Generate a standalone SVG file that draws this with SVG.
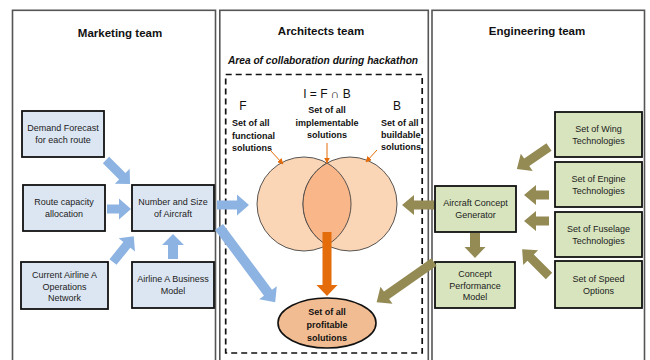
<svg xmlns="http://www.w3.org/2000/svg" width="650" height="360" viewBox="0 0 650 360">
<defs>
<style>
.panel{fill:#fff;stroke:#555;stroke-width:1.6}
.title{font-family:"Liberation Sans",Arial,sans-serif;font-weight:bold;font-size:11.5px;fill:#111;text-anchor:middle}
.bb{fill:#DCE6F2;stroke:#111;stroke-width:1.8}
.gb{fill:#D7E4BD;stroke:#111;stroke-width:1.8}
.t{font-family:"Liberation Sans",Arial,sans-serif;font-size:9px;fill:#222;text-anchor:middle}
.tb{font-family:"Liberation Sans",Arial,sans-serif;font-size:9px;font-weight:bold;fill:#111}
.ab{fill:#8DB3E2}
.ao{fill:#948A54}
.ar{fill:#E46C0A}
.thin{stroke:#E46C0A;stroke-width:1;fill:none;marker-end:url(#sm)}
</style>
<marker id="sm" viewBox="0 0 10 10" refX="9" refY="5" markerWidth="6" markerHeight="6" orient="auto" markerUnits="userSpaceOnUse">
<path d="M0,0 L10,5 L0,10 z" fill="#E46C0A"/>
</marker>
</defs>
<rect width="650" height="360" fill="#fff"/>

<g id="panels">
<rect class="panel" x="12.5" y="10.3" width="203" height="360"/>
<rect class="panel" x="219.8" y="10.3" width="208.5" height="360"/>
<rect class="panel" x="432" y="10.3" width="212.5" height="360"/>
<text class="title" x="120" y="37">Marketing team</text>
<text class="title" x="321" y="35">Architects team</text>
<text class="title" x="537" y="35">Engineering team</text>
</g>

<g id="collab">
<text x="323" y="64" font-family="'Liberation Sans',Arial,sans-serif" font-size="10.2px" font-weight="bold" font-style="italic" text-anchor="middle" fill="#111">Area of collaboration during hackathon</text>
<rect x="225.7" y="74.5" width="196.5" height="278.5" fill="none" stroke="#111" stroke-width="1.7" stroke-dasharray="6,4"/>
</g>

<g id="venn">
<circle cx="304" cy="204" r="47" fill="#FBD6B6" stroke="#444" stroke-width="0.9"/>
<circle cx="350" cy="204" r="47" fill="#FBD6B6" stroke="#444" stroke-width="0.9"/>
<path d="M327,163 A47,47 0 0,1 327,245 A47,47 0 0,1 327,163 Z" fill="#F9B688" stroke="#444" stroke-width="0.9"/>
<text x="327" y="98" font-family="'Liberation Sans',Arial,sans-serif" font-size="12px" text-anchor="middle" fill="#111">I = F ∩ B</text>
<text x="243" y="110" font-family="'Liberation Sans',Arial,sans-serif" font-size="12px" text-anchor="middle" fill="#111">F</text>
<text x="397" y="110" font-family="'Liberation Sans',Arial,sans-serif" font-size="12px" text-anchor="middle" fill="#111">B</text>
<text class="tb" text-anchor="middle"><tspan x="327" y="113">Set of all</tspan><tspan x="327" y="125.5">implementable</tspan><tspan x="327" y="137.5">solutions</tspan></text>
<text class="tb"><tspan x="232" y="126">Set of all</tspan><tspan x="232" y="138.5">functional</tspan><tspan x="232" y="150.5">solutions</tspan></text>
<text class="tb"><tspan x="381" y="125.5">Set of all</tspan><tspan x="381" y="138">buildable</tspan><tspan x="381" y="150">solutions</tspan></text>
</g>

<g id="profit">
<ellipse cx="327" cy="323" rx="49" ry="25" fill="#F2BC92" stroke="#111" stroke-width="1.6"/>
<text class="tb" text-anchor="middle" font-size="9.5px"><tspan x="327" y="314.5">Set of all</tspan><tspan x="327" y="327.5">profitable</tspan><tspan x="327" y="340.5">solutions</tspan></text>
</g>

<g id="demand"><rect class="bb" x="22" y="111" width="82" height="46"/><text class="t"><tspan x="63" y="131">Demand Forecast</tspan><tspan x="63" y="143">for each route</tspan></text></g>
<g id="route"><rect class="bb" x="23" y="185" width="82" height="46"/><text class="t"><tspan x="64" y="205">Route capacity</tspan><tspan x="64" y="216.5">allocation</tspan></text></g>
<g id="number"><rect class="bb" x="132" y="185" width="82" height="46"/><text class="t"><tspan x="173" y="205">Number and Size</tspan><tspan x="173" y="216.5">of Aircraft</tspan></text></g>
<g id="current"><rect class="bb" x="21" y="262" width="87" height="47"/><text class="t"><tspan x="64.5" y="278">Current Airline A</tspan><tspan x="64.5" y="289.5">Operations</tspan><tspan x="64.5" y="300.5">Network</tspan></text></g>
<g id="business"><rect class="bb" x="132" y="262" width="82" height="46"/><text class="t"><tspan x="173" y="282">Airline A Business</tspan><tspan x="173" y="293.5">Model</tspan></text></g>

<g id="wing"><rect class="gb" x="555" y="112" width="87" height="45"/><text class="t"><tspan x="598.5" y="132">Set of Wing</tspan><tspan x="598.5" y="144">Technologies</tspan></text></g>
<g id="engine"><rect class="gb" x="555" y="162" width="87" height="45"/><text class="t"><tspan x="598.5" y="182">Set of Engine</tspan><tspan x="598.5" y="194">Technologies</tspan></text></g>
<g id="fuselage"><rect class="gb" x="555" y="212" width="87" height="45"/><text class="t"><tspan x="598.5" y="232">Set of Fuselage</tspan><tspan x="598.5" y="243.5">Technologies</tspan></text></g>
<g id="speed"><rect class="gb" x="555" y="261" width="87" height="47"/><text class="t"><tspan x="598.5" y="282">Set of Speed</tspan><tspan x="598.5" y="293.5">Options</tspan></text></g>
<g id="acg"><rect class="gb" x="435" y="186" width="81" height="46"/><text class="t"><tspan x="475.5" y="206">Aircraft Concept</tspan><tspan x="475.5" y="217.5">Generator</tspan></text></g>
<g id="cpm"><rect class="gb" x="435" y="262" width="80" height="46"/><text class="t"><tspan x="475" y="277">Concept</tspan><tspan x="475" y="288.5">Performance</tspan><tspan x="475" y="299.5">Model</tspan></text></g>

<g id="connectors">
<polygon class="ab" transform="translate(106,160) rotate(45)" points="0,-4.5 23,-4.5 23,-10.5 34,0 23,10.5 23,4.5 0,4.5"/>
<polygon class="ab" transform="translate(107,209)" points="0,-4.5 12,-4.5 12,-10.5 24,0 12,10.5 12,4.5 0,4.5"/>
<polygon class="ab" transform="translate(113,262) rotate(-51)" points="0,-4.5 22,-4.5 22,-10.5 33,0 22,10.5 22,4.5 0,4.5"/>
<polygon class="ab" transform="translate(173,259) rotate(-90)" points="0,-5 14,-5 14,-11 25,0 14,11 14,5 0,5"/>
<polygon class="ab" transform="translate(217,205)" points="0,-4.5 20,-4.5 20,-10.5 32,0 20,10.5 20,4.5 0,4.5"/>
<polygon class="ab" transform="translate(219,227) rotate(53.3)" points="0,-5 82,-5 82,-11 94,0 82,11 82,5 0,5"/>

<polygon class="ao" transform="translate(549,147) rotate(145.5)" points="0,-4.5 27,-4.5 27,-10.5 39,0 27,10.5 27,4.5 0,4.5"/>
<polygon class="ao" transform="translate(549,195) rotate(180)" points="0,-4.5 13,-4.5 13,-10 25,0 13,10 13,4.5 0,4.5"/>
<polygon class="ao" transform="translate(549,221) rotate(180)" points="0,-4.5 13,-4.5 13,-10 25,0 13,10 13,4.5 0,4.5"/>
<polygon class="ao" transform="translate(549,276) rotate(-135)" points="0,-4.5 26,-4.5 26,-10.5 38,0 26,10.5 26,4.5 0,4.5"/>
<polygon class="ao" transform="translate(475,233) rotate(90)" points="0,-5 14,-5 14,-10.5 25,0 14,10.5 14,5 0,5"/>
<polygon class="ao" transform="translate(434,205) rotate(180)" points="0,-4.5 20,-4.5 20,-10 32,0 20,10 20,4.5 0,4.5"/>
<polygon class="ao" transform="translate(434,262) rotate(145)" points="0,-4.5 58,-4.5 58,-10.5 70,0 58,10.5 58,4.5 0,4.5"/>

<polygon class="ar" transform="translate(327,232) rotate(90)" points="0,-4.5 53,-4.5 53,-10.5 64,0 53,10.5 53,4.5 0,4.5"/>

<path class="thin" d="M270,150 L283,164"/>
<path class="thin" d="M327,143 L327,163"/>
<path class="thin" d="M377,150 L366,162"/>
</g>
</svg>
